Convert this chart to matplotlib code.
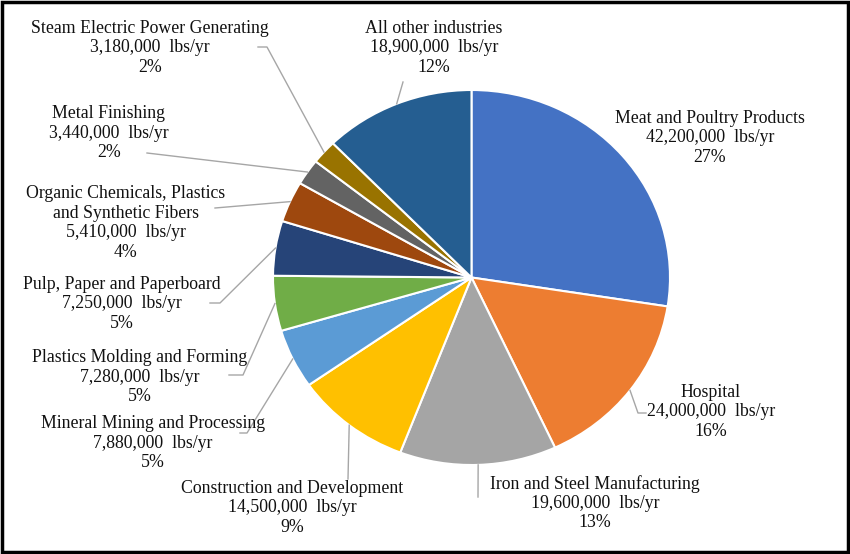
import numpy as np
import matplotlib.pyplot as plt
from matplotlib.patches import Rectangle
from matplotlib.lines import Line2D

plt.rcParams['font.family'] = ['Liberation Serif', 'DejaVu Serif']

# Datos del gráfico (lbs/yr)
industrias = ['Meat and Poultry Products', 'Hospital', 'Iron and Steel Manufacturing',
              'Construction and Development', 'Mineral Mining and Processing',
              'Plastics Molding and Forming', 'Pulp, Paper and Paperboard',
              'Organic Chemicals, Plastics\nand Synthetic Fibers', 'Metal Finishing',
              'Steam Electric Power Generating', 'All other industries']
cargas = [42200000, 24000000, 19600000, 14500000, 7880000, 7280000,
          7250000, 5410000, 3440000, 3180000, 18900000]
colores = ['#4472C4', '#ED7D31', '#A5A5A5', '#FFC000', '#5B9BD5', '#70AD47',
           '#264478', '#9E480E', '#636363', '#997300', '#255E91']

W, H = 850, 554

def px(x, y):
    # pixel de la imagen -> fracción de figura
    return x / W, 1 - y / H

# posición de cada etiqueta (centro del bloque) y codos de la línea guía, en pixeles
pos_etiquetas = [(710, 138), (711, 412), (595, 503), (292, 508), (153, 443),
                 (140, 377), (122, 304), (126, 223), (109, 133), (150, 48), (434, 48)]
codos = [[], [(638, 413), (646, 413)], [(478, 497)], [(348, 479)],
         [(247, 433), (240, 433)], [(243, 375), (229, 375)],
         [(220, 303), (210, 303)], [(215, 208)], [(147, 153)],
         [(267, 47), (258, 47)], [(403, 82)]]

fig = plt.figure(figsize=(W / 100, H / 100), dpi=100)
# ejes del tamaño exacto del pastel (ligeramente ovalado como el original)
x0, x1, y0, y1 = 273, 670, 90, 465
ax = fig.add_axes([x0 / W, 1 - y1 / H, (x1 - x0) / W, (y1 - y0) / H])
wedges, _ = ax.pie(cargas, colors=colores, startangle=90, counterclock=False,
                   radius=1.0, wedgeprops=dict(edgecolor='white', linewidth=1.5))
ax.set_aspect('auto')
ax.set_xlim(-1, 1)
ax.set_ylim(-1, 1)
ax.axis('off')

total = sum(cargas)
for i, w in enumerate(wedges):
    pct = 100 * cargas[i] / total
    texto = f"{industrias[i]}\n{cargas[i]:,}  lbs/yr\n{pct:.0f}%"
    tx, ty = pos_etiquetas[i]
    fig.text(*px(tx, ty), texto, ha='center', va='center', fontsize=12.8,
             linespacing=1.18, color='#111111')
    if codos[i]:
        ang = np.deg2rad((w.theta1 + w.theta2) / 2)
        p = ax.transData.transform((np.cos(ang), np.sin(ang)))
        p = fig.transFigure.inverted().transform(p)
        xs = [p[0]] + [px(*c)[0] for c in codos[i]]
        ys = [p[1]] + [px(*c)[1] for c in codos[i]]
        fig.add_artist(Line2D(xs, ys, color='#a6a6a6', linewidth=1.0,
                              transform=fig.transFigure))

# marco negro alrededor de la imagen
fig.add_artist(Rectangle((0.002, 0.003), 0.996, 0.994, transform=fig.transFigure,
                         fill=False, edgecolor='black', linewidth=2.5))

fig.savefig('out.png', dpi=100)
